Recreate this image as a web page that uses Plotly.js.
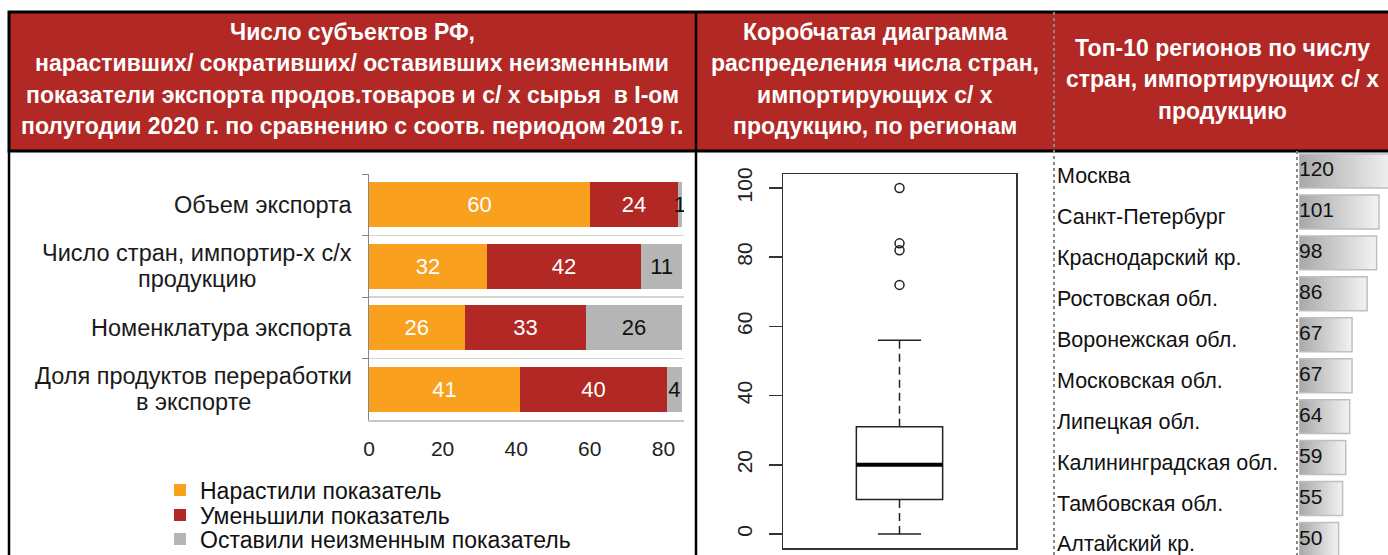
<!DOCTYPE html>
<html>
<head>
<meta charset="utf-8">
<script src="https://cdn.plot.ly/plotly-3.0.1.min.js"></script>
<style>html,body{margin:0;padding:0;background:#fff;overflow:hidden;}#chart{width:1388px;height:555px;}</style>
</head>
<body>
<div id="chart"></div>
<script>
// ---------- DATA ----------
const indicatorCategories = ["Объем экспорта", "Число стран, импортир-х с/х<br>продукцию", "Номенклатура экспорта", "Доля продуктов переработки<br>в экспорте"];
const seriesNames = ["Нарастили показатель", "Уменьшили показатель", "Оставили неизменным показатель"];
const increasedValues = [60, 32, 26, 41];
const decreasedValues = [24, 42, 33, 40];
const unchangedValues = [1, 11, 26, 4];
const barTicks = [0, 20, 40, 60, 80];

const boxQ1 = 10, boxMedian = 20, boxQ3 = 31, whiskerLow = 0, whiskerHigh = 56;
const boxOutliers = [100, 84, 82, 72];
const boxTicks = [0, 20, 40, 60, 80, 100];

const topRegions = ["Москва", "Санкт-Петербург", "Краснодарский кр.", "Ростовская обл.", "Воронежская обл.", "Московская обл.", "Липецкая обл.", "Калининградская обл.", "Тамбовская обл.", "Алтайский кр."];
const topCountries = [120, 101, 98, 86, 67, 67, 64, 59, 55, 50];

const header1 = ["Число субъектов РФ,", "нарастивших/ сокративших/ оставивших неизменными", "показатели экспорта продов.товаров и с/ х сырья  в I-ом", "полугодии 2020 г. по сравнению с соотв. периодом 2019 г."];
const header2 = ["Коробчатая диаграмма", "распределения числа стран,", "импортирующих с/ х", "продукцию, по регионам"];
const header3 = ["Топ-10 регионов по числу", "стран, импортирующих с/ х", "продукцию"];

// ---------- STYLE / LAYOUT HELPERS ----------
const W = 1388, H = 555;
const px = x => x / W;
const py = y => 1 - y / H;
const FONT = "Arial, 'Liberation Sans', sans-serif";
const RED = "#B22824", ORANGE = "#F9A01E", GRAY = "#B5B5B5";
const measureCtx = document.createElement("canvas").getContext("2d");
const textWidth = (t, size) => { measureCtx.font = size + "px 'Liberation Sans', Arial, sans-serif"; return measureCtx.measureText(t).width; };

const traces = [];
const colors = [ORANGE, RED, GRAY];
const textColors = ["#ffffff", "#ffffff", "#111111"];
const legendIds = ["legend", "legend2", "legend3"];
[increasedValues, decreasedValues, unchangedValues].forEach((vals, k) => {
  traces.push({
    type: "bar", orientation: "h", name: seriesNames[k], legend: legendIds[k],
    x: vals, y: indicatorCategories, xaxis: "x", yaxis: "y",
    width: 0.73,
    marker: {color: colors[k], line: {width: 0}},
    text: vals.map(String), textposition: "inside", insidetextanchor: "middle",
    textfont: {family: FONT, size: 22, color: textColors[k]},
    cliponaxis: true, hoverinfo: "skip"
  });
});

// Box plot
traces.push({
  type: "box", x: [1], q1: [boxQ1], median: [boxMedian], q3: [boxQ3],
  lowerfence: [boxQ1], upperfence: [boxQ3], width: 0.4, whiskerwidth: 0,
  fillcolor: "#ffffff", line: {color: "#222", width: 1.5},
  xaxis: "x2", yaxis: "y2", showlegend: false, hoverinfo: "skip", boxpoints: false
});
const capHalf = 0.1, boxHalf = 0.2;
traces.push({type: "scatter", mode: "lines", x: [1, 1], y: [boxQ3, whiskerHigh], line: {color: "#222", width: 1.5, dash: "8px,5px"}, xaxis: "x2", yaxis: "y2", showlegend: false, hoverinfo: "skip"});
traces.push({type: "scatter", mode: "lines", x: [1, 1], y: [whiskerLow, boxQ1], line: {color: "#222", width: 1.5, dash: "8px,5px"}, xaxis: "x2", yaxis: "y2", showlegend: false, hoverinfo: "skip"});
[whiskerLow, whiskerHigh].forEach(w => traces.push({type: "scatter", mode: "lines", x: [1 - capHalf, 1 + capHalf], y: [w, w], line: {color: "#222", width: 1.5}, xaxis: "x2", yaxis: "y2", showlegend: false, hoverinfo: "skip"}));
traces.push({type: "scatter", mode: "lines", x: [1 - boxHalf, 1 + boxHalf], y: [boxMedian, boxMedian], line: {color: "#000", width: 4}, xaxis: "x2", yaxis: "y2", showlegend: false, hoverinfo: "skip"});
traces.push({type: "scatter", mode: "markers", x: boxOutliers.map(() => 1), y: boxOutliers, marker: {symbol: "circle-open", size: 9, color: "#222", line: {width: 1.5}}, xaxis: "x2", yaxis: "y2", showlegend: false, hoverinfo: "skip"});

// Top-10 gradient bars
const barHalf = 0.415;
topCountries.forEach((v, i) => {
  traces.push({
    type: "scatter", mode: "lines", fill: "toself",
    x: [0, v, v, 0, 0], y: [i - barHalf, i - barHalf, i + barHalf, i + barHalf, i - barHalf],
    line: {color: "#bfbfbf", width: 1.5},
    fillgradient: {type: "horizontal", colorscale: [[0, "#a8a8a8"], [1, "#f3f3f3"]]},
    xaxis: "x3", yaxis: "y3", showlegend: false, hoverinfo: "skip"
  });
});
traces.push({
  type: "scatter", mode: "text", x: topCountries.map(() => 0), y: topCountries.map((v, i) => i),
  text: topCountries.map(String), textposition: "middle right",
  textfont: {family: FONT, size: 21, color: "#111"}, cliponaxis: false,
  xaxis: "x3", yaxis: "y3", showlegend: false, hoverinfo: "skip"
});

// ---------- ANNOTATIONS ----------
const annotations = [];
const catFont = 23.5, catLineGap = 26, catRight = 352;
indicatorCategories.forEach(c => {
  const lines = c.split("<br>");
  const maxW = Math.max(...lines.map(l => textWidth(l, catFont)));
  lines.forEach((ln, j) => annotations.push({
    xref: "paper", x: px(catRight - maxW / 2), xanchor: "center", yref: "y", y: c, yanchor: "middle",
    yshift: ((lines.length - 1) / 2 - j) * catLineGap,
    text: ln, showarrow: false, font: {family: FONT, size: catFont, color: "#1a1a1a"}
  }));
});
topRegions.forEach((r, i) => annotations.push({
  xref: "paper", x: px(1055), xanchor: "left", yref: "y3", y: i, yanchor: "middle", yshift: -5,
  text: r, showarrow: false, font: {family: FONT, size: 21.5, color: "#111"}
}));
const hdrFont = {family: FONT, size: 23, color: "#ffffff"};
const hdrLines = (lines, cx, ys) => lines.forEach((t, i) => annotations.push({
  xref: "paper", yref: "paper", x: px(cx), y: py(ys[i]), xanchor: "center", yanchor: "middle",
  text: "<b>" + t + "</b>", showarrow: false, font: hdrFont
}));
hdrLines(header1, 352, [32, 63, 95, 126]);
hdrLines(header2, 875, [32, 63, 95, 126]);
hdrLines(header3, 1222, [48, 79, 111]);

// ---------- SHAPES ----------
const shapes = [
  {type: "rect", xref: "paper", yref: "paper", x0: px(9), x1: px(1400), y0: py(151), y1: py(12), fillcolor: RED, line: {color: "#000", width: 3}, layer: "below"},
  {type: "line", xref: "paper", yref: "paper", x0: px(9), x1: px(9), y0: py(151), y1: py(560), line: {color: "#000", width: 2.5}},
  {type: "line", xref: "paper", yref: "paper", x0: px(696), x1: px(696), y0: py(12), y1: py(560), line: {color: "#000", width: 2.5}},
  {type: "line", xref: "paper", yref: "paper", x0: px(1054), x1: px(1054), y0: py(12), y1: py(560), line: {color: "#888", width: 2, dash: "dot"}},
  {type: "line", xref: "paper", yref: "paper", x0: px(1297), x1: px(1297), y0: py(151), y1: py(560), line: {color: "#888", width: 2, dash: "dot"}}
];

const legendBase = {x: px(160), xanchor: "left", yanchor: "middle", font: {family: FONT, size: 23, color: "#111"}, bgcolor: "rgba(0,0,0,0)", itemwidth: 30, borderwidth: 0};
const layout = {
  width: W, height: H, margin: {l: 0, r: 0, t: 0, b: 0, pad: 0, autoexpand: false},
  paper_bgcolor: "#fff", plot_bgcolor: "rgba(0,0,0,0)",
  barmode: "stack", showlegend: true,
  uniformtext: {mode: "show", minsize: 22},
  legend: Object.assign({}, legendBase, {y: py(490)}),
  legend2: Object.assign({}, legendBase, {y: py(515)}),
  legend3: Object.assign({}, legendBase, {y: py(539)}),
  xaxis: {domain: [px(369), px(684)], range: [0, 85.6], anchor: "y", tickvals: barTicks, showgrid: false, zeroline: false,
          showline: true, linecolor: "#c8c8c8", linewidth: 1.5, ticks: "", tickfont: {family: FONT, size: 21, color: "#222"}, ticklabelstandoff: 9, fixedrange: true},
  yaxis: {domain: [py(420), py(174)], type: "category", categoryarray: indicatorCategories, autorange: "reversed", anchor: "x",
          tickson: "boundaries", ticks: "outside", ticklen: 6, tickcolor: "#888", showline: true, linecolor: "#888", linewidth: 1.5,
          showgrid: true, gridcolor: "#d2d2d2", gridwidth: 1.5, showticklabels: false, zeroline: false, fixedrange: true},
  xaxis2: {domain: [px(783), px(1016)], range: [0.46, 1.54], anchor: "y2", showticklabels: false, ticks: "", showgrid: false, zeroline: false,
           showline: true, mirror: true, linecolor: "#333", linewidth: 1.5, fixedrange: true},
  yaxis2: {domain: [py(548), py(174)], range: [-4.05, 104.05], anchor: "x2", tickvals: boxTicks, ticks: "outside", ticklen: 13, tickcolor: "#333", tickwidth: 1.5,
           tickangle: -90, tickfont: {family: FONT, size: 21, color: "#222"}, showline: true, mirror: true, linecolor: "#333", linewidth: 1.5,
           showgrid: false, zeroline: false, ticklabelstandoff: 8, fixedrange: true},
  xaxis3: {domain: [px(1299), 1], range: [0, 112.4], anchor: "y3", visible: false, fixedrange: true},
  yaxis3: {domain: [0, py(150)], range: [9.38, -0.513], anchor: "x3", visible: false, fixedrange: true},
  annotations: annotations, shapes: shapes
};

Plotly.newPlot("chart", traces, layout, {displayModeBar: false, staticPlot: true});
</script>
</body>
</html>
